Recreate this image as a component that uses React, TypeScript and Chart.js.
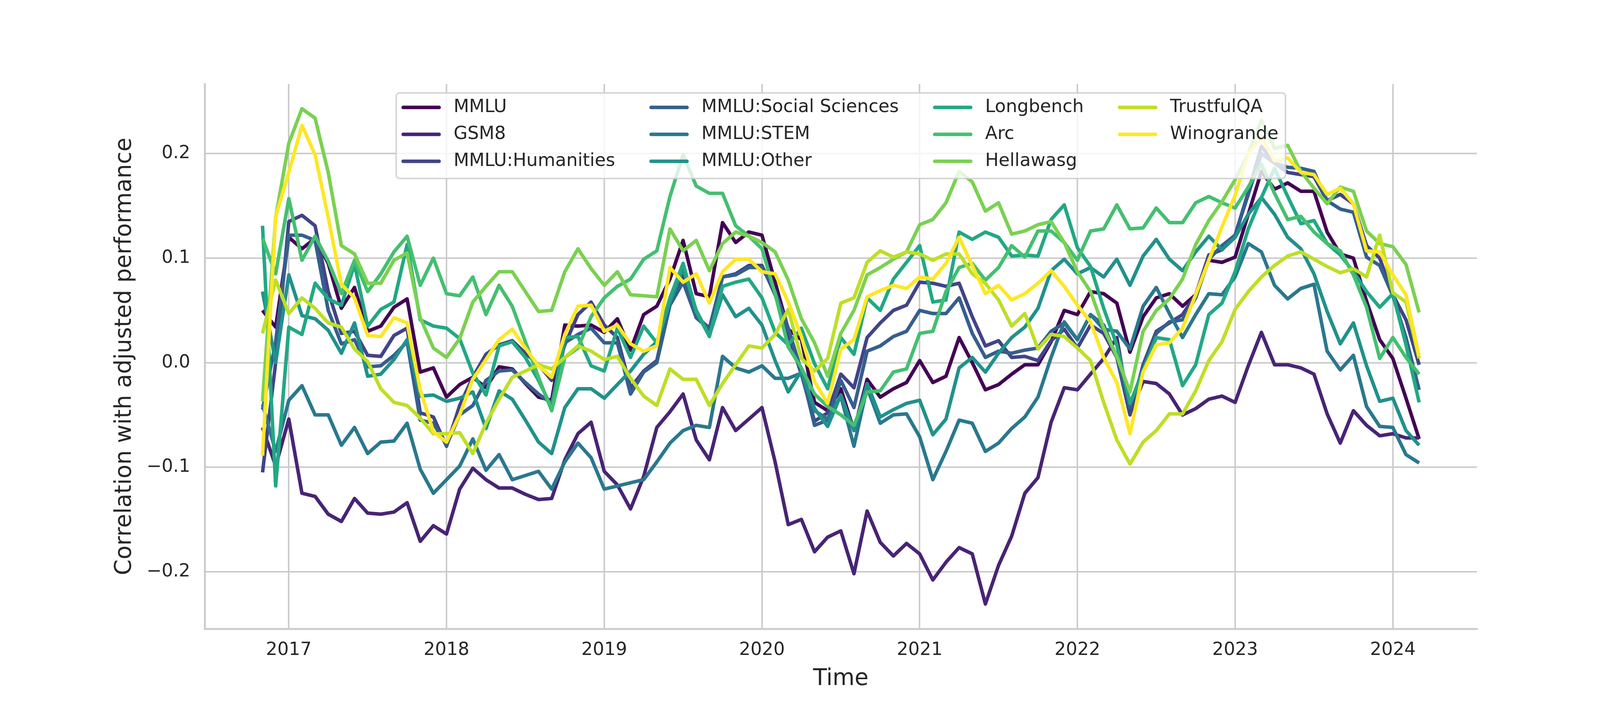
import { useEffect, useRef } from "react"
import { Chart, registerables } from "chart.js"

Chart.register(...registerables)

// monthly points, Nov 2016 .. Mar 2024
const startYear = 2016
const startMonth = 11
const monthCount = 89
const months = Array.from({ length: monthCount }, (_, i) => {
  const m = startMonth - 1 + i
  return `${startYear + Math.floor(m / 12)}-${String((m % 12) + 1).padStart(2, "0")}`
})

const seriesNames = [
  "MMLU",
  "GSM8",
  "MMLU:Humanities",
  "MMLU:Social Sciences",
  "MMLU:STEM",
  "MMLU:Other",
  "Longbench",
  "Arc",
  "Hellawasg",
  "TrustfulQA",
  "Winogrande",
]

// viridis, 11 steps
const seriesColors = [
  "#440154",
  "#482475",
  "#414487",
  "#355f8d",
  "#2a788e",
  "#21918c",
  "#22a884",
  "#44bf70",
  "#7ad151",
  "#bddf26",
  "#fde725",
]

const mmlu = [
  0.05, 0.034,
  0.12, 0.109, 0.119, 0.095, 0.052, 0.072, 0.03, 0.035, 0.053, 0.061, -0.009, -0.005,
  -0.033, -0.021, -0.014, -0.024, -0.004, -0.006, -0.02, -0.033, -0.036, 0.036, 0.035, 0.036,
  0.029, 0.042, 0.012, 0.046, 0.054, 0.08, 0.117, 0.066, 0.063, 0.134, 0.115, 0.125,
  0.122, 0.077, 0.032, 0.022, -0.038, -0.046, -0.025, -0.065, -0.016, -0.033, -0.025, -0.019,
  0.002, -0.019, -0.013, 0.024, 0.0, -0.026, -0.021, -0.011, -0.002, -0.002, 0.02, 0.05,
  0.046, 0.068, 0.066, 0.057, 0.01, 0.044, 0.062, 0.066, 0.054, 0.065, 0.098, 0.096,
  0.101, 0.142, 0.183, 0.166, 0.172, 0.164, 0.164, 0.125, 0.104, 0.1, 0.059, 0.022,
  0.004, -0.034, -0.073,
]

const gsm8 = [
  -0.062, -0.099,
  -0.054, -0.125, -0.128, -0.145, -0.152, -0.13, -0.144, -0.145, -0.143, -0.134, -0.171, -0.156,
  -0.164, -0.121, -0.101, -0.112, -0.12, -0.12, -0.126, -0.131, -0.13, -0.093, -0.068, -0.057,
  -0.104, -0.117, -0.14, -0.109, -0.062, -0.047, -0.03, -0.074, -0.093, -0.043, -0.065, -0.054,
  -0.043, -0.095, -0.155, -0.15, -0.181, -0.167, -0.161, -0.202, -0.142, -0.172, -0.185, -0.173,
  -0.183, -0.208, -0.191, -0.177, -0.183, -0.231, -0.194, -0.166, -0.125, -0.11, -0.057, -0.024,
  -0.026, -0.011, 0.004, 0.024, -0.049, -0.018, -0.02, -0.03, -0.05, -0.044, -0.035, -0.032,
  -0.038, -0.003, 0.029, -0.002, -0.002, -0.005, -0.011, -0.049, -0.077, -0.046, -0.06, -0.07,
  -0.068, -0.072, -0.072,
]

const humanities = [
  -0.105, 0.0,
  0.135, 0.141, 0.131, 0.068, 0.028, 0.03, 0.007, 0.006, 0.026, 0.033, -0.048, -0.052,
  -0.08, -0.041, -0.014, 0.008, 0.017, 0.021, 0.009, -0.002, -0.017, 0.017, 0.046, 0.058,
  0.036, 0.024, -0.024, -0.008, 0.002, 0.058, 0.084, 0.044, 0.033, 0.082, 0.085, 0.093,
  0.093, 0.065, 0.027, -0.011, -0.056, -0.048, -0.011, -0.024, 0.024, 0.038, 0.05, 0.055,
  0.077, 0.076, 0.073, 0.076, 0.044, 0.016, 0.021, 0.005, 0.006, 0.002, 0.021, 0.032,
  0.014, 0.036, 0.028, 0.005, -0.05, -0.002, 0.03, 0.038, 0.046, 0.065, 0.103, 0.108,
  0.122, 0.163, 0.207, 0.191, 0.182, 0.18, 0.178, 0.155, 0.161, 0.152, 0.112, 0.1,
  0.065, 0.041, -0.002,
]

const socialSciences = [
  -0.045, 0.02,
  0.122, 0.122, 0.117, 0.05, 0.018, 0.022, -0.004, -0.003, 0.007, 0.02, -0.055, -0.058,
  -0.079, -0.05, -0.041, -0.017, -0.008, -0.007, -0.019, -0.03, -0.039, 0.019, 0.027, 0.033,
  0.019, 0.019, -0.03, -0.009, 0.0, 0.055, 0.077, 0.043, 0.032, 0.082, 0.084, 0.091,
  0.091, 0.068, 0.033, -0.008, -0.06, -0.055, -0.017, -0.043, 0.011, 0.016, 0.025, 0.03,
  0.05, 0.047, 0.047, 0.062, 0.028, 0.005, 0.011, 0.009, 0.012, 0.014, 0.03, 0.038,
  0.022, 0.046, 0.036, 0.005, -0.043, -0.005, 0.028, 0.039, 0.041, 0.062, 0.099, 0.112,
  0.122, 0.161, 0.2, 0.191, 0.187, 0.186, 0.183, 0.155, 0.147, 0.144, 0.101, 0.093,
  0.064, 0.024, -0.026,
]

const stem = [
  -0.04, -0.085,
  -0.036, -0.022, -0.05, -0.05, -0.079, -0.062, -0.087, -0.076, -0.075, -0.058, -0.102, -0.125,
  -0.112, -0.099, -0.073, -0.103, -0.088, -0.112, -0.108, -0.104, -0.121, -0.095, -0.077, -0.091,
  -0.121, -0.118, -0.115, -0.112, -0.095, -0.077, -0.065, -0.06, -0.062, 0.006, -0.005, -0.009,
  -0.003, -0.015, -0.015, -0.01, -0.046, -0.054, -0.032, -0.08, -0.024, -0.058, -0.05, -0.049,
  -0.071, -0.112, -0.085, -0.055, -0.058, -0.085, -0.077, -0.063, -0.052, -0.033, 0.005, 0.039,
  0.022, 0.046, 0.032, 0.03, 0.013, 0.054, 0.072, 0.047, 0.024, 0.046, 0.066, 0.065,
  0.082, 0.114, 0.106, 0.074, 0.061, 0.071, 0.075, 0.011, -0.007, 0.007, -0.042, -0.061,
  -0.062, -0.088, -0.096,
]

const other = [
  0.068, 0.0,
  0.084, 0.045, 0.042, 0.031, 0.009, 0.038, -0.013, -0.011, 0.003, 0.022, -0.032, -0.031,
  -0.037, -0.034, -0.028, -0.063, -0.027, -0.035, -0.055, -0.076, -0.087, -0.043, -0.025, -0.025,
  -0.034, -0.021, -0.008, 0.008, 0.02, 0.058, 0.09, 0.05, 0.026, 0.065, 0.044, 0.052,
  0.036, 0.002, -0.028, -0.008, -0.044, -0.061, -0.031, -0.065, -0.02, -0.052, -0.045, -0.039,
  -0.036, -0.069, -0.054, -0.005, 0.005, -0.009, 0.009, 0.024, 0.034, 0.052, 0.088, 0.099,
  0.085, 0.091, 0.082, 0.099, 0.074, 0.102, 0.118, 0.099, 0.088, 0.106, 0.121, 0.108,
  0.12, 0.142, 0.158, 0.142, 0.12, 0.109, 0.085, 0.049, 0.018, 0.038, -0.003, -0.037,
  -0.034, -0.065, -0.079,
]

const longbench = [
  0.131, -0.118,
  0.034, 0.027, 0.076, 0.061, 0.055, 0.094, 0.035, 0.051, 0.058, 0.113, 0.041, 0.035,
  0.033, 0.023, -0.01, -0.031, 0.016, 0.02, 0.005, -0.017, -0.043, 0.024, 0.025, -0.003,
  -0.008, 0.033, 0.005, 0.035, 0.019, 0.062, 0.095, 0.049, 0.025, 0.073, 0.077, 0.08,
  0.062, 0.029, 0.017, 0.033, -0.001, -0.025, 0.024, 0.008, 0.062, 0.05, 0.08, 0.096,
  0.112, 0.058, 0.06, 0.125, 0.118, 0.125, 0.12, 0.102, 0.103, 0.102, 0.137, 0.151,
  0.11, 0.092, 0.052, 0.017, -0.039, -0.008, 0.024, 0.022, -0.022, -0.002, 0.046, 0.057,
  0.087, 0.128, 0.158, 0.186, 0.159, 0.133, 0.136, 0.114, 0.103, 0.087, 0.068, 0.053,
  0.066, 0.017, -0.038,
]

const arc = [
  0.119, 0.085,
  0.157, 0.098, 0.121, 0.097, 0.066, 0.098, 0.068, 0.085, 0.106, 0.121, 0.074, 0.1,
  0.066, 0.064, 0.082, 0.046, 0.074, 0.054, 0.02, -0.014, -0.046, 0.005, 0.014, 0.044,
  0.062, 0.073, 0.08, 0.099, 0.107, 0.159, 0.199, 0.169, 0.162, 0.162, 0.131, 0.121,
  0.109, 0.066, 0.015, -0.005, -0.03, -0.042, -0.05, -0.06, -0.028, -0.027, -0.009, -0.006,
  0.028, 0.03, 0.068, 0.091, 0.095, 0.079, 0.091, 0.112, 0.101, 0.126, 0.126, 0.115,
  0.098, 0.126, 0.128, 0.151, 0.128, 0.129, 0.148, 0.134, 0.134, 0.153, 0.159, 0.153,
  0.148, 0.168, 0.19, 0.162, 0.137, 0.14, 0.125, 0.114, 0.107, 0.084, 0.053, 0.004,
  0.024, 0.005, -0.011,
]

const hellawasg = [
  -0.037, 0.139,
  0.21, 0.243, 0.234, 0.182, 0.112, 0.104, 0.076, 0.076, 0.098, 0.105, 0.043, 0.014,
  0.005, 0.023, 0.058, 0.073, 0.087, 0.087, 0.068, 0.049, 0.05, 0.087, 0.109, 0.09,
  0.074, 0.087, 0.065, 0.064, 0.063, 0.128, 0.107, 0.117, 0.088, 0.114, 0.125, 0.121,
  0.115, 0.106, 0.079, 0.042, 0.019, -0.013, 0.028, 0.05, 0.084, 0.091, 0.099, 0.106,
  0.132, 0.137, 0.153, 0.183, 0.173, 0.145, 0.153, 0.123, 0.126, 0.132, 0.135, 0.115,
  0.087, 0.068, 0.033, 0.006, -0.028, 0.03, 0.05, 0.061, 0.08, 0.113, 0.136, 0.154,
  0.175, 0.2, 0.232, 0.205, 0.208, 0.183, 0.167, 0.152, 0.168, 0.164, 0.126, 0.114,
  0.111, 0.094, 0.048,
]

const trustfulQA = [
  0.028, 0.079,
  0.047, 0.062, 0.052, 0.038, 0.034, 0.013, 0.001, -0.025, -0.038, -0.041, -0.053, -0.068,
  -0.068, -0.067, -0.087, -0.058, -0.035, -0.014, -0.008, -0.002, -0.006, 0.005, 0.016, 0.011,
  0.003, 0.006, -0.015, -0.032, -0.041, -0.006, -0.016, -0.016, -0.041, -0.02, -0.002, 0.016,
  0.014, 0.027, 0.051, 0.004, -0.008, 0.004, 0.057, 0.062, 0.096, 0.107, 0.101, 0.106,
  0.104, 0.098, 0.104, 0.104, 0.085, 0.076, 0.06, 0.035, 0.047, 0.013, 0.027, 0.025,
  0.014, 0.002, -0.038, -0.074, -0.097, -0.076, -0.065, -0.049, -0.049, -0.027, 0.002, 0.02,
  0.051, 0.068, 0.082, 0.093, 0.102, 0.106, 0.099, 0.092, 0.086, 0.09, 0.082, 0.122,
  0.067, 0.058, 0.004,
]

const winogrande = [
  -0.089, 0.14,
  0.182, 0.227, 0.199, 0.139, 0.075, 0.062, 0.026, 0.025, 0.043, 0.038, -0.026, -0.066,
  -0.076, -0.05, -0.016, 0.003, 0.022, 0.032, 0.014, -0.003, -0.014, 0.027, 0.054, 0.055,
  0.03, 0.036, 0.018, 0.011, 0.016, 0.091, 0.077, 0.085, 0.057, 0.087, 0.099, 0.099,
  0.087, 0.085, 0.058, 0.025, -0.018, -0.039, 0.013, 0.022, 0.063, 0.069, 0.074, 0.071,
  0.082, 0.08, 0.095, 0.12, 0.093, 0.066, 0.074, 0.06, 0.066, 0.076, 0.088, 0.073,
  0.055, 0.039, 0.005, -0.019, -0.068, -0.009, 0.017, 0.019, 0.033, 0.065, 0.098, 0.13,
  0.16, 0.2, 0.216, 0.193, 0.196, 0.182, 0.18, 0.161, 0.167, 0.152, 0.107, 0.106,
  0.084, 0.065, 0.006,
]

const seriesValues = [
  mmlu,
  gsm8,
  humanities,
  socialSciences,
  stem,
  other,
  longbench,
  arc,
  hellawasg,
  trustfulQA,
  winogrande,
]

const yearTicks = [2017, 2018, 2019, 2020, 2021, 2022, 2023, 2024]
const corrTicks = [-0.2, -0.1, 0.0, 0.1, 0.2]

const FONT = '"DejaVu Sans", sans-serif'
const TEXT = "#262626"
const GRID = "#cccccc"
const LINE_WIDTH = 9

const legendBox = {
  fontSize: 46,
  rows: 3,
  handle: 92,
  handleGap: 37,
  colGap: 92,
  pad: 18,
  offsetTop: 23,
  firstRow: 37,
  rowGap: 69,
  height: 219,
  radius: 9,
}

const toYear = (label: string) => {
  const [y, m] = label.split("-").map(Number)
  return y + (m - 1) / 12
}

// matplotlib-like legend: 4 columns filled top to bottom
const columnLegend = {
  id: "columnLegend",
  afterDatasetsDraw(chart: Chart) {
    const { ctx, chartArea } = chart
    const L = legendBox
    ctx.save()
    ctx.font = `${L.fontSize}px ${FONT}`
    const nCols = Math.ceil(seriesNames.length / L.rows)
    const colWidths: number[] = []
    for (let c = 0; c < nCols; c++) {
      let w = 0
      for (let r = 0; r < L.rows; r++) {
        const k = c * L.rows + r
        if (k < seriesNames.length) w = Math.max(w, ctx.measureText(seriesNames[k]).width)
      }
      colWidths.push(L.handle + L.handleGap + w)
    }
    const width = L.pad * 2 + colWidths.reduce((a, b) => a + b, 0) + L.colGap * (nCols - 1)
    const left = (chartArea.left + chartArea.right) / 2 - width / 2
    const top = chartArea.top + L.offsetTop

    ctx.beginPath()
    ctx.roundRect(left, top, width, L.height, L.radius)
    ctx.fillStyle = "rgba(255,255,255,0.8)"
    ctx.fill()
    ctx.lineWidth = 4
    ctx.strokeStyle = "rgba(204,204,204,0.8)"
    ctx.stroke()

    let x = left + L.pad
    for (let c = 0; c < nCols; c++) {
      for (let r = 0; r < L.rows; r++) {
        const k = c * L.rows + r
        if (k >= seriesNames.length) continue
        const y = top + L.firstRow + r * L.rowGap
        ctx.beginPath()
        ctx.moveTo(x, y)
        ctx.lineTo(x + L.handle, y)
        ctx.strokeStyle = seriesColors[k]
        ctx.lineWidth = LINE_WIDTH
        ctx.lineCap = "round"
        ctx.stroke()
        ctx.fillStyle = TEXT
        ctx.textAlign = "left"
        ctx.textBaseline = "middle"
        ctx.fillText(seriesNames[k], x + L.handle + L.handleGap, y)
      }
      x += colWidths[c] + L.colGap
    }
    ctx.restore()
  },
}

export default function App() {
  const chartRef = useRef<HTMLCanvasElement>(null)
  const chartInstance = useRef<Chart | null>(null)

  useEffect(() => {
    if (!chartRef.current) return
    if (chartInstance.current) chartInstance.current.destroy()

    const xs = months.map(toYear)
    const xPad = (xs[xs.length - 1] - xs[0]) * 0.05
    const all = seriesValues.flat()
    const yLo = Math.min(...all)
    const yHi = Math.max(...all)
    const yPad = (yHi - yLo) * 0.05

    const ctx = chartRef.current.getContext("2d")
    if (!ctx) return

    chartInstance.current = new Chart(ctx, {
      type: "line",
      data: {
        datasets: seriesNames.map((name, i) => ({
          label: name,
          data: seriesValues[i].map((v, j) => ({ x: xs[j], y: v })),
          borderColor: seriesColors[i],
          backgroundColor: seriesColors[i],
          borderWidth: LINE_WIDTH,
          borderJoinStyle: "round" as const,
          pointRadius: 0,
          tension: 0,
          fill: false,
          order: seriesNames.length - i,
        })),
      },
      options: {
        responsive: false,
        devicePixelRatio: 1,
        animation: false,
        events: [],
        layout: { padding: { top: 215, right: 419, bottom: 0, left: 0 } },
        plugins: {
          legend: { display: false },
          tooltip: { enabled: false },
        },
        scales: {
          x: {
            type: "linear",
            min: xs[0] - xPad,
            max: xs[xs.length - 1] + xPad,
            afterBuildTicks: (scale: any) => {
              scale.ticks = yearTicks.map((v) => ({ value: v }))
            },
            afterFit: (scale: any) => {
              scale.height = 190
            },
            ticks: {
              color: TEXT,
              font: { family: FONT, size: 46 },
              padding: 27,
              maxRotation: 0,
              callback: (v: any) => String(v),
            },
            grid: { color: GRID, lineWidth: 4, drawTicks: false },
            border: { display: true, color: GRID, width: 5 },
            title: {
              display: true,
              text: "Time",
              color: TEXT,
              font: { family: FONT, size: 58 },
              padding: { top: 0, bottom: 26 },
            },
          },
          y: {
            min: yLo - yPad,
            max: yHi + yPad,
            afterBuildTicks: (scale: any) => {
              scale.ticks = corrTicks.map((v) => ({ value: v }))
            },
            afterFit: (scale: any) => {
              scale.width = 524
            },
            ticks: {
              color: TEXT,
              font: { family: FONT, size: 46 },
              padding: 37,
              callback: (v: any) => Number(v).toFixed(1).replace("-", "\u2212"),
            },
            grid: { color: GRID, lineWidth: 4, drawTicks: false },
            border: { display: true, color: GRID, width: 5 },
            title: {
              display: true,
              text: "Correlation with adjusted performance",
              color: TEXT,
              font: { family: FONT, size: 58 },
              padding: { top: 285, bottom: 0 },
            },
          },
        },
      },
      plugins: [columnLegend],
    })

    return () => {
      if (chartInstance.current) {
        chartInstance.current.destroy()
        chartInstance.current = null
      }
    }
  }, [])

  return (
    <div style={{ position: "absolute", left: 0, top: 0, width: 4200, height: 1800, background: "#ffffff" }}>
      <canvas ref={chartRef} width={4200} height={1800} style={{ width: 4200, height: 1800 }} />
    </div>
  )
}
